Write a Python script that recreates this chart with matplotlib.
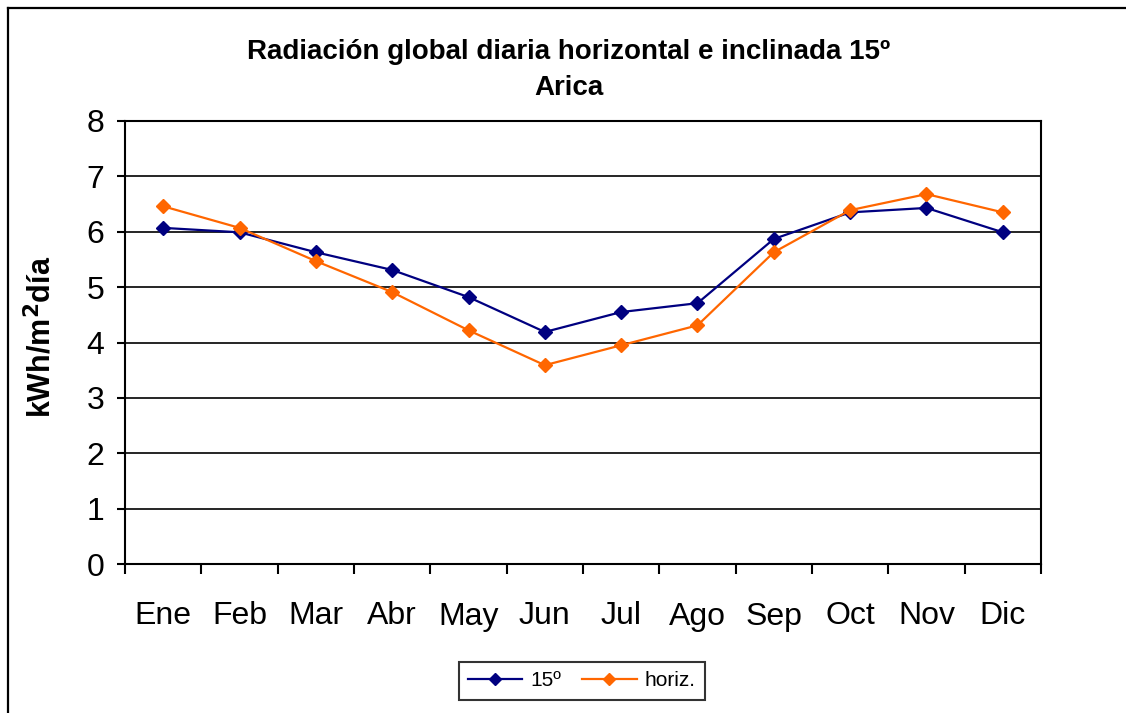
import matplotlib
matplotlib.use("Agg")
import matplotlib.pyplot as plt
from matplotlib.lines import Line2D
import numpy as np

months = ["Ene", "Feb", "Mar", "Abr", "May", "Jun", "Jul", "Ago", "Sep", "Oct", "Nov", "Dic"]
incl15 = [6.07, 5.99, 5.63, 5.31, 4.82, 4.19, 4.55, 4.71, 5.87, 6.35, 6.43, 5.99]
horiz = [6.46, 6.07, 5.47, 4.91, 4.22, 3.59, 3.95, 4.31, 5.63, 6.39, 6.68, 6.35]
series_labels = ["15º", "horiz."]
yticks = [0, 1, 2, 3, 4, 5, 6, 7, 8]

plt.rcParams['font.family'] = ['Liberation Sans', 'DejaVu Sans']

W, H = 1126, 713
fig = plt.figure(figsize=(W / 100, H / 100), dpi=100)
ax = fig.add_axes([125 / W, 1 - 564 / H, (1041 - 125) / W, (564 - 121) / H])

x = np.arange(len(months))
l1, = ax.plot(x, incl15, color="#000080", lw=1.6, marker="D", markersize=7.5, label=series_labels[0], zorder=3)
l2, = ax.plot(x, horiz, color="#FF6600", lw=1.6, marker="D", markersize=7.5, label=series_labels[1], zorder=3)

ax.set_xlim(-0.5, len(months) - 0.5)
ax.set_ylim(0, 8)
ax.set_yticks(yticks)
ax.set_yticklabels([str(v) for v in yticks], fontsize=23)
ax.yaxis.grid(True, color="black", lw=1.2)
ax.set_axisbelow(True)

ax.set_xticks(x)
ax.set_xticklabels(months, fontsize=23)
ax.set_xticks(np.arange(-0.5, len(months), 1), minor=True)
ax.tick_params(axis="x", which="major", length=0, pad=27)
ax.tick_params(axis="x", which="minor", length=7, width=1.5, direction="out")
ax.tick_params(axis="y", which="major", length=6, width=1.5, direction="out", pad=9)

for s in ax.spines.values():
    s.set_color("black")
    s.set_linewidth(1.5)

fig.text(569 / W, 1 - 52 / H, "Radiación global diaria horizontal e inclinada 15º",
         ha="center", va="center", fontsize=20, fontweight="bold")
fig.text(569 / W, 1 - 88 / H, "Arica", ha="center", va="center", fontsize=20, fontweight="bold")

fig.text(42 / W, 1 - 337 / H, "kWh/m$^\\mathbf{2}$día", rotation=90, ha="center", va="center",
         fontsize=22, fontweight="bold")

leg = fig.legend(handles=[l1, l2], loc="center", bbox_to_anchor=(582 / W, 1 - 681 / H),
                 ncol=2, fontsize=15, frameon=True, fancybox=False, handlelength=2.6,
                 handletextpad=0.4, columnspacing=1.0, borderpad=0.45, markerscale=0.8)
leg.get_frame().set_edgecolor("black")
leg.get_frame().set_linewidth(1.5)

# outer chart frame (cropped at right and bottom)
fig.add_artist(Line2D([8 / W, 1.0], [1 - 8 / H, 1 - 8 / H], transform=fig.transFigure, color="black", lw=1.6))
fig.add_artist(Line2D([8 / W, 8 / W], [1 - 8 / H, 0.0], transform=fig.transFigure, color="black", lw=1.6))

fig.savefig("out.png", dpi=100)
